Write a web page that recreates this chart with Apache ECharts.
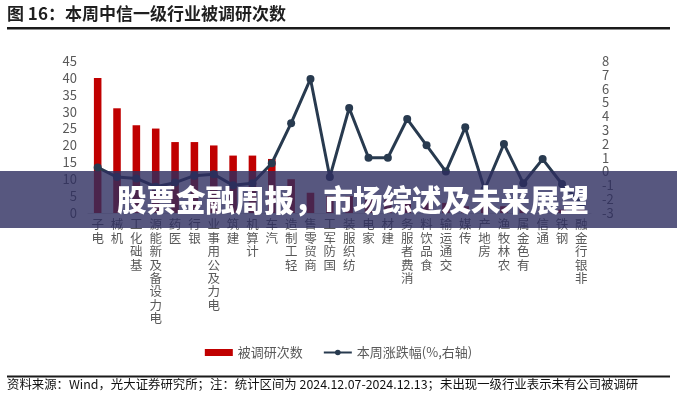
<!DOCTYPE html>
<html>
<head>
<meta charset="utf-8">
<script src="https://cdn.jsdelivr.net/npm/echarts@6/dist/echarts.min.js"></script>
<style>
html,body{margin:0;padding:0;background:#fff;}
#chart{width:677px;height:400px;}
</style>
</head>
<body>
<div id="chart"></div>
<script>
var categories = ['电子','机械','基础化工','电力设备及新能源','医药','银行','电力及公用事业','建筑','计算机','汽车','轻工制造','商贸零售','国防军工','纺织服装','家电','建材','消费者服务','食品饮料','交通运输','传媒','房地产','农林牧渔','有色金属','通信','钢铁','非银行金融'];
var researchCounts = [40,31,26,25,21,21,20,17,17,16,10,6,5,5,4,4,3,3,3,2,2,2,1,1,1,1];
var weeklyChange = [0.3,-0.4,-0.5,-1.1,-0.8,-0.3,-0.2,-1.0,-0.85,0.6,3.5,6.7,-0.4,4.6,1.0,1.0,3.8,1.9,0.0,3.2,-1.3,2.0,-0.85,0.9,-0.9,-2.3];
var leftTicks = {min:0, max:45, interval:5};
var rightTicks = {min:-3, max:8, interval:1};
var seriesNames = ['被调研次数','本周涨跌幅(%,右轴)'];
var titleText = '图 16：本周中信一级行业被调研次数';
var sourceText = '资料来源：Wind，光大证券研究所；注：统计区间为 2024.12.07-2024.12.13；未出现一级行业表示未有公司被调研';
var bannerText = '股票金融周报，市场综述及未来展望';

var FONT = '"Noto Sans CJK SC","Noto Sans",sans-serif';
var chart = echarts.init(document.getElementById('chart'), null, {renderer:'canvas'});
var option = {
  animation:false,
  backgroundColor:'#fff',
  textStyle:{fontFamily:FONT},
  grid:{left:88, right:86, top:61, bottom:187, containLabel:false},
  legend:{
    top:341, left:'center', itemGap:20, itemWidth:28, itemHeight:7,
    textStyle:{color:'#595959', fontSize:13, fontFamily:FONT},
    data:[{name:seriesNames[0], icon:'rect'},{name:seriesNames[1]}]
  },
  xAxis:{
    type:'category', data:categories,
    axisLine:{show:true, lineStyle:{color:'#d9d9d9', width:1}},
    axisTick:{show:false},
    axisLabel:{
      interval:0, margin:5, color:'#595959', fontSize:12.5, lineHeight:13.4,
      verticalAlign:'top', fontFamily:FONT,
      formatter:function(v){return v.split('').reverse().join('\n');}
    }
  },
  yAxis:[
    {type:'value', min:leftTicks.min, max:leftTicks.max, interval:leftTicks.interval,
     axisLine:{show:false}, axisTick:{show:false}, splitLine:{show:false},
     axisLabel:{color:'#595959', fontSize:13, margin:11, fontFamily:FONT}},
    {type:'value', min:rightTicks.min, max:rightTicks.max, interval:rightTicks.interval,
     axisLine:{show:false}, axisTick:{show:false}, splitLine:{show:false},
     axisLabel:{color:'#595959', fontSize:13, margin:11, fontFamily:FONT}}
  ],
  series:[
    {name:seriesNames[0], type:'bar', data:researchCounts, barWidth:'39%',
     itemStyle:{color:'#c00000'}},
    {name:seriesNames[1], type:'line', yAxisIndex:1, data:weeklyChange,
     symbol:'circle', symbolSize:8, showSymbol:true,
     lineStyle:{color:'#283a4f', width:3}, itemStyle:{color:'#283a4f'}}
  ],
  graphic:[
    {type:'text', left:7, top:5, z:50,
     style:{text:titleText, font:'bold 17px '+FONT, fill:'#1f1f1f'}},
    {type:'rect', shape:{x:7, y:27, width:663, height:2.5}, z:50, style:{fill:'#1a1a1a'}},
    {type:'rect', shape:{x:7, y:375.5, width:663, height:2}, z:50, style:{fill:'#1a1a1a'}},
    {type:'text', left:7, top:378.5, z:50,
     style:{text:sourceText, font:'12.4px '+FONT, fill:'#111'}},
    {type:'rect', shape:{x:0, y:171, width:677, height:57}, z:100,
     style:{fill:'rgba(45,45,95,0.8)'}},
    {type:'text', x:353, y:200, z:101,
     style:{text:bannerText, font:'900 29.5px '+FONT, fill:'#fff', align:'center', verticalAlign:'middle'}}
  ]
};
chart.setOption(option);
</script>
</body>
</html>
